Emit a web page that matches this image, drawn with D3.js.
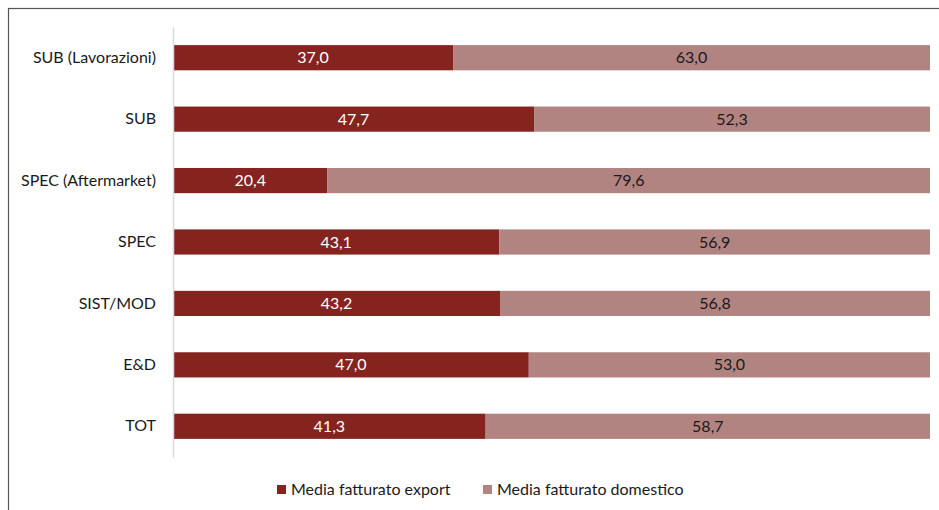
<!DOCTYPE html>
<html><head><meta charset="utf-8">
<script src="https://cdn.jsdelivr.net/npm/d3@7"></script>
<style>body{margin:0;background:#fff}svg{display:block}</style>
</head><body>
<script>
const categories = ["SUB (Lavorazioni)","SUB","SPEC (Aftermarket)","SPEC","SIST/MOD","E&D","TOT"];
const exportVals = [37.0,47.7,20.4,43.1,43.2,47.0,41.3];
const domesticVals = [63.0,52.3,79.6,56.9,56.8,53.0,58.7];
const seriesNames = ["Media fatturato export","Media fatturato domestico"];
const colors = ["#85241F","#B18381"];

const W=939,H=510;
const svg=d3.select("body").append("svg").attr("width",W).attr("height",H);
const font="Lato, 'Open Sans', sans-serif";
const fs=16;
svg.append("rect").attr("x",8.5).attr("y",8.5).attr("width",W).attr("height",H).attr("fill","none").attr("stroke","#555").attr("stroke-width",1.2);

const x=d3.scaleLinear().domain([0,100]).range([173,930]);
const y=d3.scaleBand().domain(categories).range([27,457]).paddingInner(0.59).paddingOuter(0.295);

const data=categories.map((c,i)=>({c,v:[exportVals[i],domesticVals[i]]}));
const fmt=v=>v.toFixed(1).replace(".",",");
data.forEach(d=>{
  let x0=0;
  d.v.forEach((v,j)=>{
    svg.append("rect").attr("x",x(x0)).attr("y",y(d.c)).attr("width",x(x0+v)-x(x0)).attr("height",y.bandwidth()).attr("fill",colors[j]);
    svg.append("text").attr("x",(x(x0)+x(x0+v))/2).attr("y",y(d.c)+y.bandwidth()/2).attr("dy","0.35em")
      .attr("text-anchor","middle").attr("font-family",font).attr("font-size",fs)
      .attr("fill",j===0?"#fff":"#1a1a1a").text(fmt(v));
    x0+=v;
  });
});

const ax=svg.append("g").attr("transform","translate(173,0)").call(d3.axisLeft(y).tickSize(0).tickPadding(17));
ax.select(".domain").attr("stroke","#d9d9d9").attr("stroke-width",1.5);
ax.selectAll("text").attr("font-family",font).attr("font-size",fs).attr("fill","#1a1a1a");

const leg=[{x:277},{x:483}];
seriesNames.forEach((n,i)=>{
  svg.append("rect").attr("x",leg[i].x).attr("y",485).attr("width",9).attr("height",9).attr("fill",colors[i]);
  svg.append("text").attr("x",leg[i].x+14).attr("y",495).attr("font-family",font).attr("font-size",fs).attr("fill","#1a1a1a").text(n);
});
</script>
</body></html>
